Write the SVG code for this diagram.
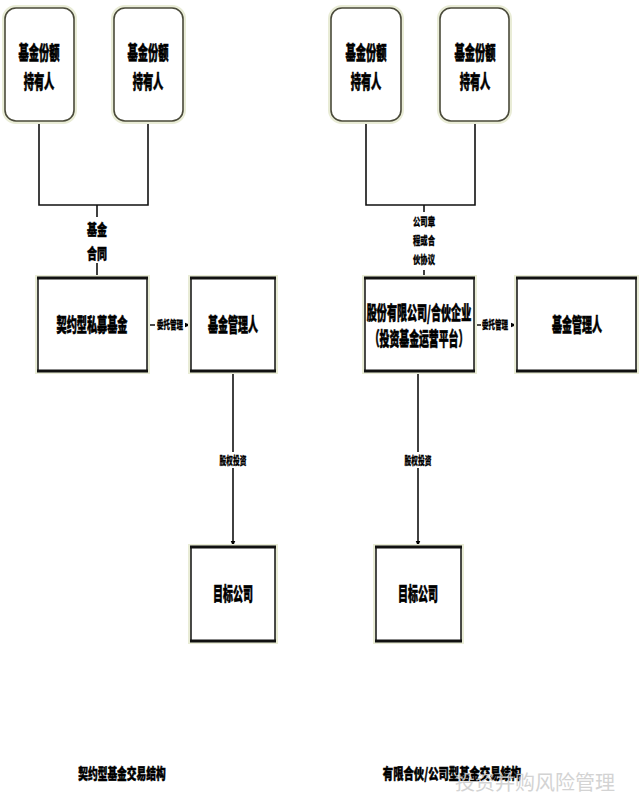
<svg xmlns="http://www.w3.org/2000/svg" width="640" height="810" viewBox="0 0 640 810">
<defs>
<marker id="arr" viewBox="0 0 10 10" refX="9" refY="5" markerWidth="6" markerHeight="6" orient="auto" markerUnits="userSpaceOnUse">
<path d="M0,1 L10,5 L0,9 z" fill="#000"/>
</marker>
<style>
.t{font-family:"Noto Sans CJK SC","Noto Sans",sans-serif;font-weight:900;fill:#000;text-anchor:middle;}
.big{font-size:19px;stroke:#000;stroke-width:0.6;}
.mid{font-size:15px;stroke:#000;stroke-width:0.5;}
.sm{font-size:11px;stroke:#000;stroke-width:0.3;}
.holder{fill:#fff;stroke:#4a4a3a;stroke-width:1.6;}
.glow{fill:none;stroke:#e9ecd6;stroke-width:6;}
.box{fill:#fff;stroke:#111;stroke-width:1.5;}
.edge{stroke:#111;stroke-width:3;}
.ln{stroke:#111;stroke-width:1.6;fill:none;}
.lbg{fill:#fff;}
.wm{font-family:"Noto Sans CJK SC",sans-serif;font-size:20px;fill:#cfcfcf;font-weight:400;}
</style>
</defs>
<rect width="640" height="810" fill="#fff"/>

<g id="connectors">
<polyline class="ln" points="39,121 39,205 148,205 148,121"/>
<line class="ln" x1="97" y1="205" x2="97" y2="278"/>
<line class="ln" x1="147" y1="325" x2="190" y2="325" marker-end="url(#arr)"/>
<line class="ln" x1="233" y1="371" x2="233" y2="546" marker-end="url(#arr)"/>
<polyline class="ln" points="366,121 366,205 475,205 475,121"/>
<line class="ln" x1="424" y1="205" x2="424" y2="278"/>
<line class="ln" x1="474" y1="325" x2="516" y2="325" marker-end="url(#arr)"/>
<line class="ln" x1="418" y1="371" x2="418" y2="546" marker-end="url(#arr)"/>
<rect class="lbg" x="86" y="217" width="22" height="46"/>
<text class="t mid" transform="translate(97,235) scale(0.667,1)">基金</text>
<text class="t mid" transform="translate(97,259) scale(0.667,1)">合同</text>
<rect class="lbg" x="155" y="318" width="30" height="14"/>
<text class="t sm" transform="translate(170,329) scale(0.59,1)">委托管理</text>
<rect class="lbg" x="219" y="452" width="28" height="16"/>
<text class="t sm" transform="translate(233,465) scale(0.61,1)">股权投资</text>
<rect class="lbg" x="411" y="212" width="26" height="58"/>
<text class="t sm" transform="translate(424,226) scale(0.667,1)">公司章</text>
<text class="t sm" transform="translate(424,245) scale(0.667,1)">程或合</text>
<text class="t sm" transform="translate(424,264) scale(0.667,1)">伙协议</text>
<rect class="lbg" x="481" y="318" width="30" height="14"/>
<text class="t sm" transform="translate(495,329) scale(0.59,1)">委托管理</text>
<rect class="lbg" x="404" y="452" width="28" height="16"/>
<text class="t sm" transform="translate(418,465) scale(0.61,1)">股权投资</text>
</g>

<g id="holder-l1">
<rect class="glow" x="5" y="8" width="69" height="113" rx="11"/>
<rect class="holder" x="5" y="8" width="69" height="113" rx="11"/>
<text class="t big" transform="translate(39,60) scale(0.54,1)">基金份额</text>
<text class="t big" transform="translate(39,89) scale(0.54,1)">持有人</text>
</g>
<g id="holder-l2">
<rect class="glow" x="114" y="8" width="69" height="113" rx="11"/>
<rect class="holder" x="114" y="8" width="69" height="113" rx="11"/>
<text class="t big" transform="translate(148,60) scale(0.54,1)">基金份额</text>
<text class="t big" transform="translate(148,89) scale(0.54,1)">持有人</text>
</g>
<g id="holder-r1">
<rect class="glow" x="331" y="8" width="70" height="113" rx="11"/>
<rect class="holder" x="331" y="8" width="70" height="113" rx="11"/>
<text class="t big" transform="translate(366,60) scale(0.54,1)">基金份额</text>
<text class="t big" transform="translate(366,89) scale(0.54,1)">持有人</text>
</g>
<g id="holder-r2">
<rect class="glow" x="440" y="8" width="69" height="113" rx="11"/>
<rect class="holder" x="440" y="8" width="69" height="113" rx="11"/>
<text class="t big" transform="translate(475,60) scale(0.54,1)">基金份额</text>
<text class="t big" transform="translate(475,89) scale(0.54,1)">持有人</text>
</g>

<g id="fund-l">
<rect class="glow" x="38" y="278" width="109" height="93"/>
<rect class="box" x="38" y="278" width="109" height="93"/>
<line class="edge" x1="37" y1="278" x2="148" y2="278"/>
<line class="edge" x1="37" y1="371" x2="148" y2="371"/>
<text class="t big" transform="translate(92,332) scale(0.534,1)">契约型私募基金</text>
</g>
<g id="manager-l">
<rect class="glow" x="191" y="278" width="84" height="93"/>
<rect class="box" x="191" y="278" width="84" height="93"/>
<line class="edge" x1="190" y1="278" x2="276" y2="278"/>
<line class="edge" x1="190" y1="371" x2="276" y2="371"/>
<text class="t big" transform="translate(233,332) scale(0.526,1)">基金管理人</text>
</g>
<g id="target-l">
<rect class="glow" x="191" y="547" width="84" height="94"/>
<rect class="box" x="191" y="547" width="84" height="94"/>
<line class="edge" x1="190" y1="547" x2="276" y2="547"/>
<line class="edge" x1="190" y1="641" x2="276" y2="641"/>
<text class="t big" transform="translate(233,601) scale(0.526,1)">目标公司</text>
</g>

<g id="fund-r">
<rect class="glow" x="365" y="278" width="109" height="93"/>
<rect class="box" x="365" y="278" width="109" height="93"/>
<line class="edge" x1="364" y1="278" x2="475" y2="278"/>
<line class="edge" x1="364" y1="371" x2="475" y2="371"/>
<text class="t big" transform="translate(419,320) scale(0.53,1)">股份有限公司/合伙企业</text>
<text class="t big" transform="translate(419,346) scale(0.52,1)">（投资基金运营平台）</text>
</g>
<g id="manager-r">
<rect class="glow" x="517" y="278" width="119" height="93"/>
<rect class="box" x="517" y="278" width="119" height="93"/>
<line class="edge" x1="516" y1="278" x2="637" y2="278"/>
<line class="edge" x1="516" y1="371" x2="637" y2="371"/>
<text class="t big" transform="translate(577,332) scale(0.526,1)">基金管理人</text>
</g>
<g id="target-r">
<rect class="glow" x="376" y="547" width="85" height="94"/>
<rect class="box" x="376" y="547" width="85" height="94"/>
<line class="edge" x1="375" y1="547" x2="462" y2="547"/>
<line class="edge" x1="375" y1="641" x2="462" y2="641"/>
<text class="t big" transform="translate(418,601) scale(0.526,1)">目标公司</text>
</g>

<g id="titles">
<text class="t mid" transform="translate(122,779) scale(0.65,1)">契约型基金交易结构</text>
<text class="t mid" transform="translate(452,779) scale(0.69,1)">有限合伙/公司型基金交易结构</text>
<text class="wm" x="455" y="790" opacity="0.9">投资并购风险管理</text>
</g>
</svg>
